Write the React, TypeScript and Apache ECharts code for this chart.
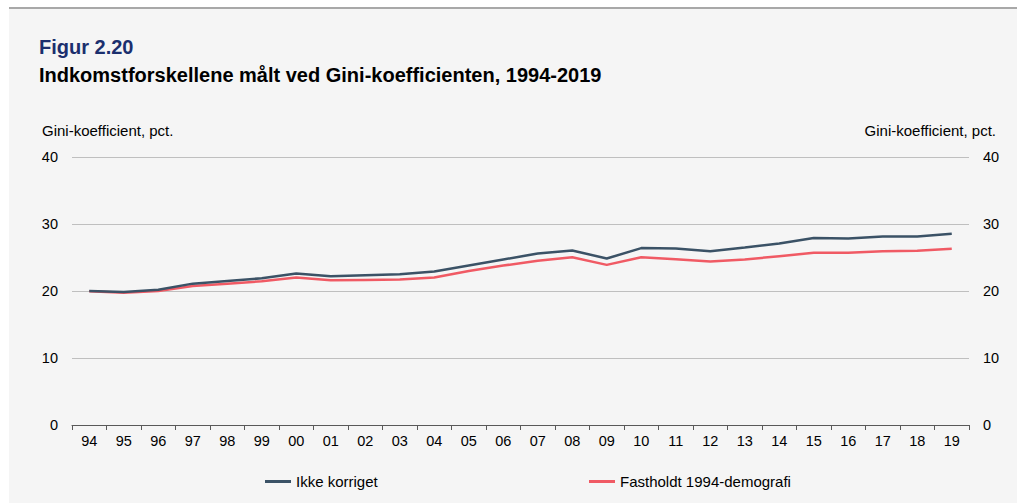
import React, { useEffect, useRef } from "react";
import * as echarts from "echarts";

const categories = ["94","95","96","97","98","99","00","01","02","03","04","05","06","07","08","09","10","11","12","13","14","15","16","17","18","19"];
const ikkeKorriget = [20.0,19.85,20.2,21.1,21.5,21.9,22.6,22.2,22.35,22.5,22.9,23.8,24.7,25.6,26.05,24.85,26.4,26.35,25.95,26.5,27.1,27.9,27.85,28.15,28.15,28.55];
const fastholdt = [19.95,19.75,20.0,20.75,21.1,21.45,22.0,21.6,21.65,21.7,22.0,23.0,23.8,24.5,25.05,23.9,25.05,24.75,24.4,24.7,25.2,25.7,25.7,25.95,26.0,26.3];
const yTicks = [0, 10, 20, 30, 40];
const seriesNames = ["Ikke korriget", "Fastholdt 1994-demografi"];
const figLabel = "Figur 2.20";
const titleText = "Indkomstforskellene målt ved Gini-koefficienten, 1994-2019";
const axisName = "Gini-koefficient, pct.";

const FONT = "'Liberation Sans', Arial, sans-serif";
const DARK = "#3b5266";
const RED = "#f05a64";

export default function App() {
  const ref = useRef<HTMLDivElement>(null);
  useEffect(() => {
    if (!ref.current) return;
    const chart = echarts.init(ref.current, null, { renderer: "svg" });
    const yAxisBase = {
      type: "value" as const,
      min: yTicks[0],
      max: yTicks[yTicks.length - 1],
      interval: 10,
      axisLine: { show: false },
      axisTick: { show: false },
      splitLine: { show: true, lineStyle: { color: "#bfbfbf", width: 1 } },
      axisLabel: { color: "#000", fontSize: 14.5, fontFamily: FONT, margin: 14 },
    };
    const legendText = { fontSize: 15, color: "#000", fontFamily: FONT };
    chart.setOption({
      animation: false,
      backgroundColor: "#ffffff",
      textStyle: { fontFamily: FONT },
      graphic: [
        { type: "rect", silent: true, z: -10, shape: { x: 9, y: 8, width: 1010, height: 495 }, style: { fill: "#f5f5f5" } },
        { type: "line", silent: true, z: -9, shape: { x1: 9, y1: 8, x2: 1017, y2: 8 }, style: { stroke: "#a8a8a8", lineWidth: 2 } },
        { type: "text", left: 39, top: 37, style: { text: figLabel, fill: "#1b2f6e", font: `bold 20px ${FONT}` } },
        { type: "text", left: 39, top: 65, style: { text: titleText, fill: "#000", font: `bold 20px ${FONT}` } },
        { type: "text", left: 42, top: 123, style: { text: axisName, fill: "#000", font: `15px ${FONT}` } },
        { type: "text", right: 21, top: 123, style: { text: axisName, fill: "#000", font: `15px ${FONT}`, align: "right" } },
      ],
      grid: { left: 72, right: 48, top: 157, bottom: 79, containLabel: false },
      legend: [
        { data: [seriesNames[0]], left: 260, top: 469, itemWidth: 26, itemHeight: 3, icon: "rect", textStyle: legendText },
        { data: [seriesNames[1]], left: 584, top: 469, itemWidth: 26, itemHeight: 3, icon: "rect", textStyle: legendText },
      ],
      xAxis: {
        type: "category",
        data: categories,
        boundaryGap: true,
        axisLine: { show: true, lineStyle: { color: "#595959", width: 1 } },
        axisTick: { show: true, length: 5, lineStyle: { color: "#595959" } },
        axisLabel: { color: "#000", fontSize: 14.5, fontFamily: FONT, margin: 8, interval: 0 },
        splitLine: { show: false },
      },
      yAxis: [
        { ...yAxisBase, position: "left" },
        { ...yAxisBase, position: "right", splitLine: { show: false } },
      ],
      series: [
        { name: seriesNames[0], type: "line", data: ikkeKorriget, symbol: "none", lineStyle: { color: DARK, width: 2.5 }, itemStyle: { color: DARK }, z: 3 },
        { name: seriesNames[1], type: "line", data: fastholdt, symbol: "none", lineStyle: { color: RED, width: 2.5 }, itemStyle: { color: RED }, z: 2 },
      ],
    });
    return () => chart.dispose();
  }, []);
  return <div ref={ref} style={{ position: "absolute", left: 0, top: 0, width: 1017, height: 504 }} />;
}
